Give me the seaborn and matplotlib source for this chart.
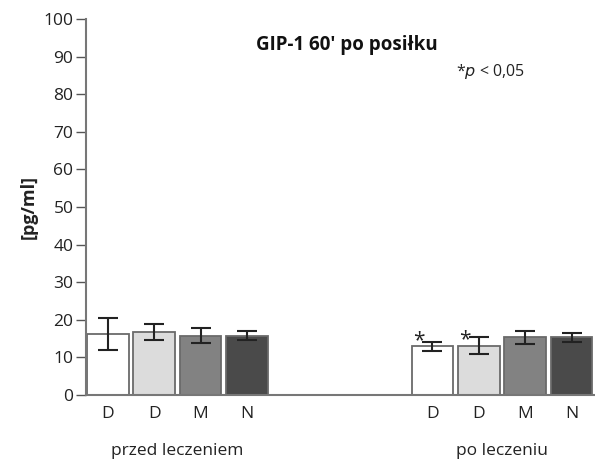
import numpy as np
import pandas as pd
import matplotlib
matplotlib.use("Agg")
import matplotlib.pyplot as plt
import seaborn as sns

# dane
groups = ["przed leczeniem", "przed leczeniem", "przed leczeniem", "przed leczeniem",
          "po leczeniu", "po leczeniu", "po leczeniu", "po leczeniu"]
labels = ["D", "D", "M", "N", "D", "D", "M", "N"]
means = [16.2, 16.7, 15.8, 15.8, 12.9, 13.1, 15.3, 15.3]
errs = [4.3, 2.2, 2.0, 1.3, 1.3, 2.2, 1.8, 1.1]
positions = [0, 1, 2, 3, 7, 8, 9, 10]
colors = ["#ffffff", "#dcdcdc", "#828282", "#4a4a4a"] * 2
significant = [False, False, False, False, True, True, False, False]

sns.set_style("white")
plt.rcParams["font.family"] = ["Open Sans", "DejaVu Sans"]

df = pd.DataFrame({"pos": positions, "val": means, "lab": labels, "grp": groups})

fig = plt.figure(figsize=(5.95, 4.63), dpi=100)
ax = fig.add_axes([0.1445, 0.147, 0.855, 0.812])

sns.barplot(data=df, x="pos", y="val", hue="pos", palette=colors, native_scale=True,
            width=0.9, edgecolor="#6a6a6a", linewidth=1.3, legend=False, ax=ax)
ax.errorbar(positions, means, yerr=errs, fmt="none", ecolor="#222222",
            elinewidth=1.5, capsize=7, capthick=1.5)

for p, m, e, s in zip(positions, means, errs, significant):
    if s:
        ax.text(p - 0.3, m + 1.5, "*", ha="center", va="center", fontsize=15, color="#222222")

ax.set_xlim(-0.47, 10.5)
ax.set_ylim(0, 100)
ax.set_yticks(range(0, 101, 10))
ax.tick_params(axis="y", direction="out", length=7, width=1, color="#555555",
               labelsize=12.5, labelcolor="#222222", left=True, pad=2)
ax.set_xticks(positions)
ax.set_xticklabels(labels, fontsize=12.5, color="#222222")
ax.tick_params(axis="x", length=0, pad=8)
ax.set_xlabel("")
ax.set_ylabel("[pg/ml]", fontsize=13, fontweight="bold", color="#222222", labelpad=4)

for side in ["top", "right"]:
    ax.spines[side].set_visible(False)
for side in ["left", "bottom"]:
    ax.spines[side].set_color("#777777")
    ax.spines[side].set_linewidth(1.5)

# etykiety grup
ax.text(1.5, -15, "przed leczeniem", ha="center", va="center", fontsize=12.5,
        color="#222222", clip_on=False)
ax.text(8.5, -15, "po leczeniu", ha="center", va="center", fontsize=12.5,
        color="#222222", clip_on=False)

ax.text(5.15, 93, "GIP-1 60' po posiłku", ha="center", va="center", fontsize=13.5,
        fontweight="bold", color="#111111")
ax.text(8.26, 86, "*$\\it{p}$ < 0,05", ha="center", va="center", fontsize=11.5, color="#222222")

fig.savefig("out.png", dpi=100)
